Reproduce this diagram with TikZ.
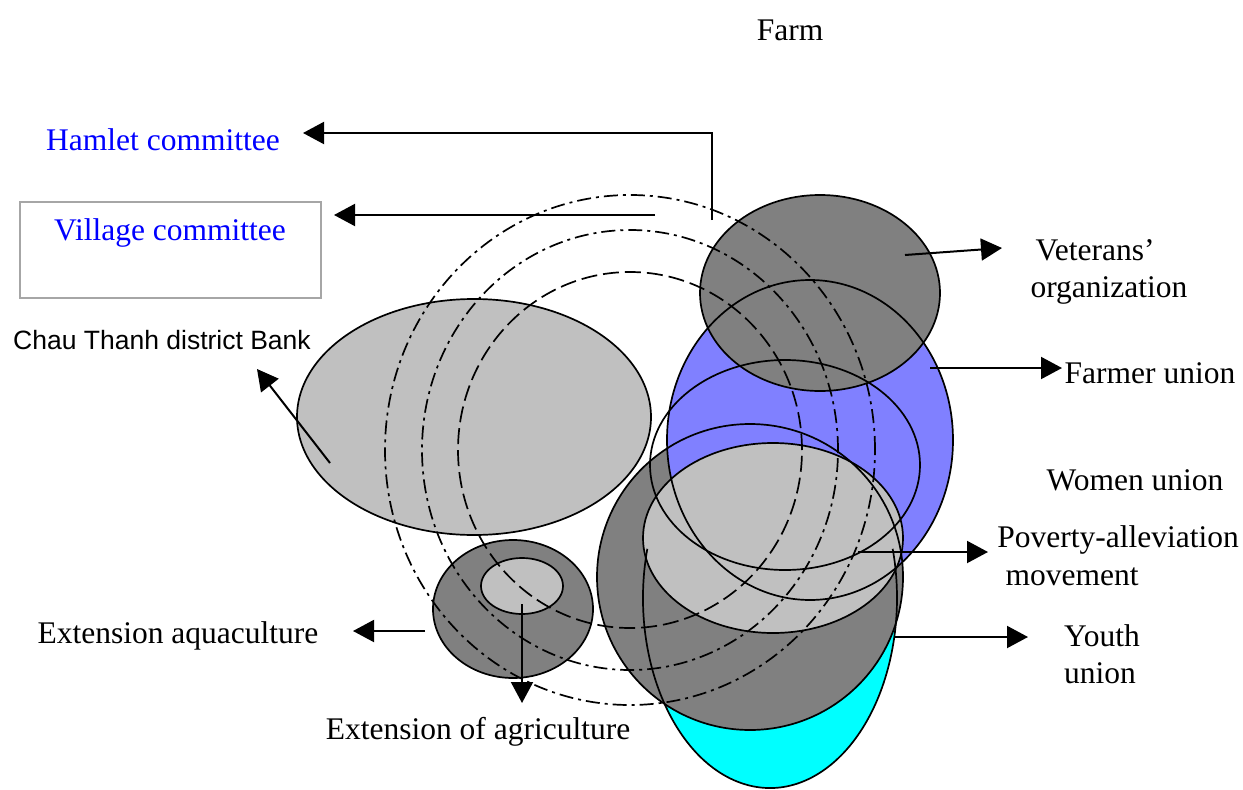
\documentclass[tikz,border=0pt]{standalone}
\usepackage{fontspec}
\setmainfont{Liberation Serif}
\newfontfamily\arialf{Liberation Sans}
\usetikzlibrary{arrows.meta}
\definecolor{lgray}{HTML}{C0C0C0}
\definecolor{dgray}{HTML}{808080}
\definecolor{fblue}{HTML}{8080FF}
\definecolor{fcyan}{HTML}{00FFFF}
\definecolor{tblue}{HTML}{0000FF}
\definecolor{boxgray}{HTML}{A6A6A6}
\begin{document}
\begin{tikzpicture}[x=1pt,y=-1pt,
  lbl/.style={font=\fontsize{31.5}{36}\selectfont, inner sep=0pt},
  outl/.style={draw=black, line width=1.7pt},
  dsh/.style={draw=black, line width=1.7pt, dash pattern=on 16pt off 6pt},
  dshd/.style={draw=black, line width=1.7pt, dash pattern=on 14pt off 5pt on 3pt off 5pt},
  arr/.style={line width=2pt, -{Triangle[length=21pt,width=22pt]}},
]
\useasboundingbox (0,0) rectangle (1243,790);

% fills
\fill[lgray] (474,417) ellipse [x radius=177pt, y radius=118pt];
\fill[fcyan] (770,598) ellipse [x radius=127pt, y radius=190pt];
\fill[dgray] (750,577) circle [radius=153pt];
\fill[fblue] (810,440) ellipse [x radius=143pt, y radius=160pt];
\fill[dgray] (820,293) ellipse [x radius=120pt, y radius=98pt];
\fill[lgray] (773,538) ellipse [x radius=130pt, y radius=95pt];
\fill[dgray] (513,609) ellipse [x radius=80pt, y radius=69pt];
\fill[lgray] (522,586) ellipse [x radius=41pt, y radius=28pt];

% outlines
\path[outl] (474,417) ellipse [x radius=177pt, y radius=118pt];
\path[outl] (770,598) ++(165:127pt and 190pt) arc [start angle=165, end angle=375, x radius=127pt, y radius=190pt];
\path[outl] (750,577) circle [radius=153pt];
\path[outl] (810,440) ellipse [x radius=143pt, y radius=160pt];
\path[outl] (820,293) ellipse [x radius=120pt, y radius=98pt];
\path[outl] (773,538) ellipse [x radius=130pt, y radius=95pt];
\path[outl] (785,465) ellipse [x radius=135pt, y radius=105pt];
\path[outl] (513,609) ellipse [x radius=80pt, y radius=69pt];
\path[outl] (522,586) ellipse [x radius=41pt, y radius=28pt];

% dashed circles
\path[dshd] (630,450) ellipse [x radius=245pt, y radius=255pt];
\path[dshd] (630,450) ellipse [x radius=208pt, y radius=220pt];
\path[dsh] (630,450) ellipse [x radius=172pt, y radius=178pt];

% village box
\draw[boxgray, line width=1.6pt] (20,202) rectangle (321,298);

% labels
\node[lbl] (farm) at (790,30) {Farm};
\node[lbl, text=tblue] (hamlet) at (163,140) {Hamlet committee};
\node[lbl, text=tblue] (village) at (170,233) {Village committee};
\node[inner sep=0pt, font=\arialf\fontsize{26.5}{30}\selectfont] (bank) at (162,340) {Chau Thanh district Bank};
\node[lbl] (vet1) at (1095,250) {Veterans’};
\node[lbl] (vet2) at (1109,290) {organization};
\node[lbl] (farmer) at (1150,373) {Farmer union};
\node[lbl] (women) at (1135,480) {Women union};
\node[lbl] (pov1) at (1118,540) {Poverty-alleviation};
\node[lbl] (pov2) at (1072,577) {movement};
\node[lbl] (youth1) at (1102,636) {Youth};
\node[lbl] (youth2) at (1100,673) {union};
\node[lbl] (aqua) at (178,636) {Extension aquaculture};
\node[lbl] (agri) at (478,732) {Extension of agriculture};

% connector end points
\coordinate (hamS) at (712,220);
\coordinate (hamE) at (303,133);
\coordinate (vilS) at (655,215);
\coordinate (vilE) at (334,215);
\coordinate (bankS) at (330,463);
\coordinate (bankE) at (257,369);
\coordinate (vetS) at (905,255);
\coordinate (vetE) at (1002,248);
\coordinate (farS) at (930,368);
\coordinate (farE) at (1062,368);
\coordinate (povS) at (858,552);
\coordinate (povE) at (988,552);
\coordinate (youS) at (895,637);
\coordinate (youE) at (1028,637);
\coordinate (aquS) at (425,631);
\coordinate (aquE) at (353,631);
\coordinate (agrS) at (522,604);
\coordinate (agrE) at (522,703);

% connectors
\draw[arr] (hamS) |- (hamE);
\draw[arr] (vilS) -- (vilE);
\draw[arr] (bankS) -- (bankE);
\draw[arr] (vetS) -- (vetE);
\draw[arr] (farS) -- (farE);
\draw[arr] (povS) -- (povE);
\draw[arr] (youS) -- (youE);
\draw[arr] (aquS) -- (aquE);
\draw[arr] (agrS) -- (agrE);
\end{tikzpicture}
\end{document}
